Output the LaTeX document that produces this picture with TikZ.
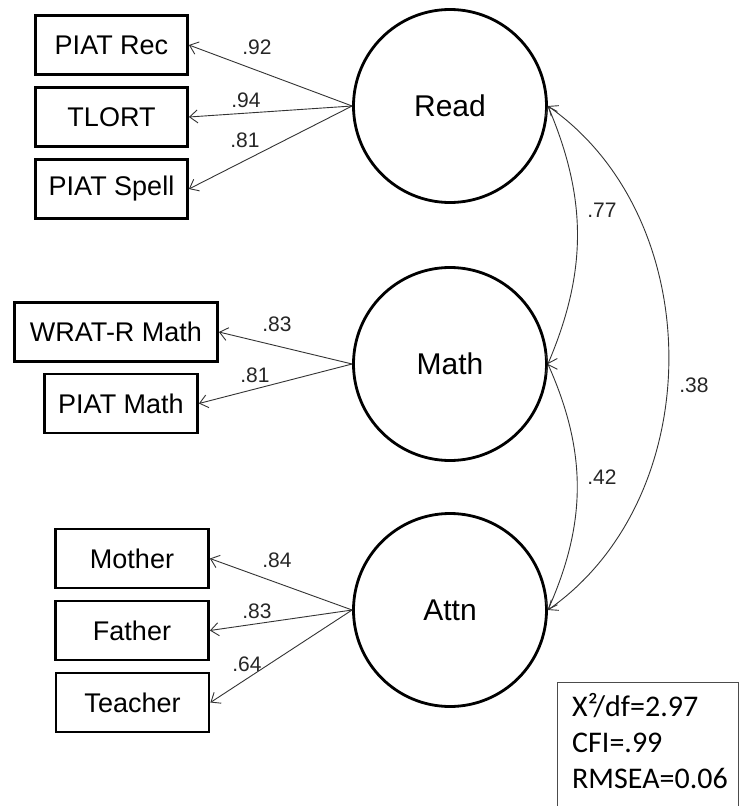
\documentclass[tikz,border=0pt]{standalone}
\usepackage{fontspec}
\setmainfont{Liberation Sans}
\newfontfamily\calfont{Carlito}
\usetikzlibrary{arrows.meta}
\begin{document}
\begin{tikzpicture}[x=1pt,y=-1pt,
  obs/.style={draw, line width=2.8pt, minimum height=59pt, inner sep=0pt, font=\fontsize{27}{32}\selectfont},
  lat/.style={draw, circle, line width=2.8pt, minimum size=193pt, inner sep=0pt, font=\fontsize{30}{36}\selectfont},
  barb/.tip={Straight Barb[length=8pt,width=13pt]},
  load/.style={draw=black!80, line width=0.9pt, -barb},
  cov/.style={draw=black!80, line width=0.9pt, barb-barb},
  coef/.style={font=\fontsize{21}{24}\selectfont, text=black!85, inner sep=0pt},
  fitline/.style={anchor=base west, inner sep=0pt, font=\calfont\fontsize{30}{36}\selectfont}]
\useasboundingbox (0,0) rectangle (739,806);
\fill[white] (0,0) rectangle (739,806);
\begin{scope}
\clip (0,0) rectangle (739,806);
% latent variables
\node[lat] (read) at (450,106) {Read};
\node[lat] (math) at (450,364) {Math};
\node[lat] (attn) at (450,610) {Attn};
% observed indicators
\node[obs, minimum width=152pt] (rec)   at (111.5,45)  {PIAT Rec};
\node[obs, minimum width=152pt] (tlort) at (111.5,117) {TLORT};
\node[obs, minimum width=152pt] (spell) at (111.5,189) {PIAT Spell};
\node[obs, minimum width=203pt] (wrat)  at (116,332)   {WRAT-R Math};
\node[obs, minimum width=153pt] (pmath) at (121,403.5) {PIAT Math};
\node[obs, minimum width=153pt] (mother) at (132,558.5) {Mother};
\node[obs, minimum width=153pt] (father) at (132,630.5) {Father};
\node[obs, minimum width=153pt] (teacher) at (132.5,702.5) {Teacher};
% loadings
\draw[load] (read.west) -- (rec.east);
\draw[load] (read.west) -- (tlort.east);
\draw[load] (read.west) -- (spell.east);
\draw[load] (math.west) -- (wrat.east);
\draw[load] (math.west) -- (pmath.east);
\draw[load] (attn.west) -- (mother.east);
\draw[load] (attn.west) -- (father.east);
\draw[load] (attn.west) -- (teacher.east);
\node[coef] (l1) at (257,47)  {.92};
\node[coef] (l2) at (246,100) {.94};
\node[coef] (l3) at (245,140) {.81};
\node[coef] (l4) at (277,324) {.83};
\node[coef] (l5) at (255,375) {.81};
\node[coef] (l6) at (277,560) {.84};
\node[coef] (l7) at (257,611) {.83};
\node[coef] (l8) at (247,664) {.64};
% covariances
\draw[cov] (read.east) to[bend left=23] (math.east);
\draw[cov] (math.east) to[bend left=24] (attn.east);
\draw[cov] (read.east) to[bend left=55] (attn.east);
\node[coef] (c1) at (602,210) {.77};
\node[coef] (c2) at (602,477) {.42};
\node[coef] (c3) at (694,385) {.38};
% fit box
\draw[black!70, line width=1pt] (557.5,682.5) rectangle (738.5,830);
\node[fitline] (f1) at (572,716) {X²/df=2.97};
\node[fitline] (f2) at (572,752) {CFI=.99};
\node[fitline] (f3) at (572,788) {RMSEA=0.06};
\end{scope}
\end{tikzpicture}
\end{document}
